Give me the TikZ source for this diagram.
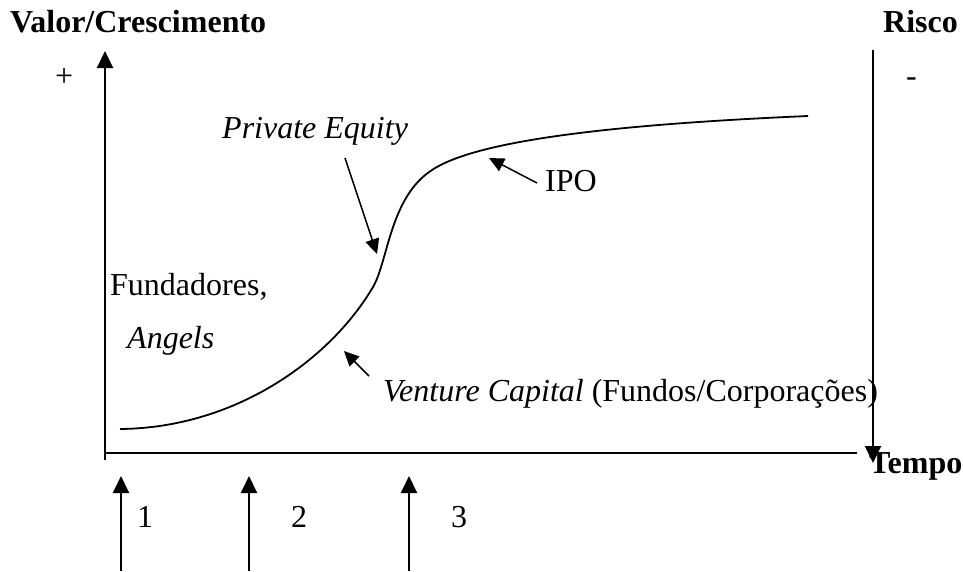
\documentclass[tikz,border=0pt]{standalone}
\usepackage{fontspec}
\setmainfont{Liberation Serif}
\usetikzlibrary{arrows.meta}
\begin{document}
\begin{tikzpicture}[x=1pt,y=-1pt,
  font=\fontsize{32}{38}\selectfont,
  lbl/.style={inner sep=0pt, anchor=base west},
  ax/.style={line width=2pt},
  bigtip/.style={-{Triangle[length=17pt,width=16pt]}},
  ptr/.style={line width=1.5pt,-{Triangle[length=15pt,width=14pt]}},
  curve/.style={line width=1.8pt}]
\useasboundingbox (0,0) rectangle (963,571);
% axes
\coordinate (yb) at (105,460);
\coordinate (yt) at (105,51);
\coordinate (xl) at (105,453);
\coordinate (xr) at (857,453);
\coordinate (rt) at (873,50);
\coordinate (rb) at (873,463);
\draw[ax,bigtip] (yb) -- (yt);
\draw[ax] (xl) -- (xr);
\draw[ax,bigtip] (rt) -- (rb);
% labels
\node[lbl] (val) at (10,32) {\bfseries Valor/Crescimento};
\node[lbl] (risco) at (883,32) {\bfseries Risco};
\node[lbl] (tempo) at (869,473) {\bfseries Tempo};
\node[lbl] (plus) at (55,86) {+};
\node[lbl] (minus) at (906,86) {-};
\node[lbl] (pe) at (222,138) {\itshape Private Equity};
\node[lbl] (ipo) at (545,191) {IPO};
\node[lbl] (fund) at (110,295) {Fundadores,};
\node[lbl] (ang) at (127,348) {\itshape Angels};
\node[lbl] (vc) at (383,401) {\itshape Venture Capital\upshape\ (Fundos/Corporações)};
\node[lbl] (n1) at (137,527) {1};
\node[lbl] (n2) at (291,527) {2};
\node[lbl] (n3) at (451,527) {3};
% curve
\coordinate (c0) at (120,429);
\coordinate (c1) at (373,287);
\coordinate (c2) at (432,170);
\coordinate (c3) at (808,116);
\draw[curve] (c0) .. controls (235,428) and (330,360) .. (c1)
  .. controls (388,261.5) and (390,197) .. (c2)
  .. controls (474,142) and (600,125) .. (c3);
% pointers
\coordinate (pe1) at (345,158);
\coordinate (pe2) at (377,254);
\draw[ptr] (pe1) -- (pe2);
\coordinate (ipo1) at (537,183);
\coordinate (ipo2) at (489,158);
\draw[ptr] (ipo1) -- (ipo2);
\coordinate (vc1) at (369,376);
\coordinate (vc2) at (344,351);
\draw[ptr] (vc1) -- (vc2);
% bottom arrows
\foreach \i/\xx in {a/121,b/249,c/409}{
  \coordinate (s\i) at (\xx,571);
  \coordinate (e\i) at (\xx,476);
  \draw[ax,bigtip] (s\i) -- (e\i);
}
\end{tikzpicture}
\end{document}
